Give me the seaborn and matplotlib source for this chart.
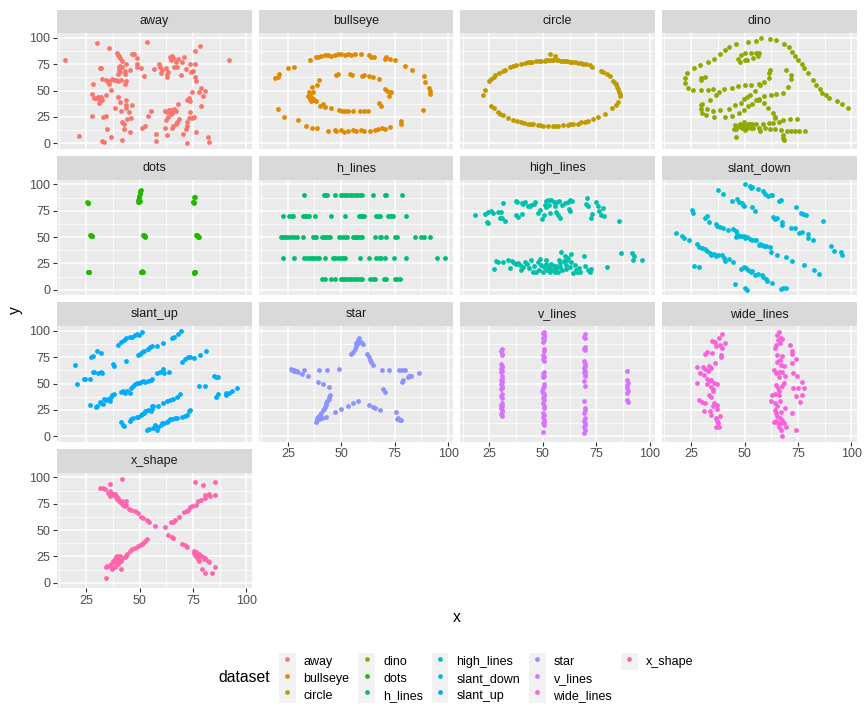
"""
Datasaurus dozen small multiples, ggplot-like look (facet_wrap, 4 columns,
legend at the bottom).
"""

import matplotlib
matplotlib.use("Agg")
import matplotlib.pyplot as plt
from matplotlib.lines import Line2D
from matplotlib.patches import Patch
import pandas as pd
import seaborn as sns

# --------------------------------------------------------------------------
# Data
# --------------------------------------------------------------------------
NAMES = ["away", "bullseye", "circle", "dino", "dots", "h_lines", "high_lines",
         "slant_down", "slant_up", "star", "v_lines", "wide_lines", "x_shape"]

COLORS = ["#F8766D", "#E18A00", "#BE9C00", "#8CAB00", "#24B700", "#00BE70",
          "#00C1AB", "#00BBDA", "#00ACFC", "#8B93FF", "#D575FE", "#F962DD",
          "#FF65AC"]

away = [
    (15.3, 79.4), (21.5, 7.0), (30.0, 95.2), (28.1, 56.2), (27.8, 46.7),
    (28.6, 42.9), (29.8, 42.5), (30.6, 43.5), (31.7, 42.2), (32.2, 44.1), (32.5, 41.0),
    (31.1, 38.4), (31.3, 40.3), (27.8, 26.0), (32.9, 25.1), (34.1, 26.0),
    (31.3, 71.4), (32.2, 71.1), (32.5, 61.0), (34.4, 59.8), (35.2, 57.8), (35.9, 59.4),
    (37.0, 60.6), (37.9, 60.0), (39.0, 60.0), (40.1, 59.4), (41.4, 60.0),
    (35.7, 56.2), (36.5, 50.5), (34.1, 46.0),
    (39.7, 85.7), (40.0, 84.1), (40.6, 83.2), (41.1, 81.0), (41.6, 78.4), (40.4, 72.1),
    (41.1, 73.7), (41.8, 72.7), (40.6, 69.8), (40.1, 65.7), (41.1, 67.3), (43.1, 65.7),
    (43.9, 59.4), (43.4, 56.2), (43.1, 68.9),
    (35.8, 90.5), (35.0, 13.3), (36.5, 6.0), (32.5, 2.2), (33.3, 1.3), (42.0, 2.9),
    (38.7, 33.3), (40.0, 43.5), (40.7, 39.0), (43.5, 41.0), (43.9, 36.5), (41.2, 30.8),
    (42.0, 20.6), (42.6, 18.7), (42.8, 13.3), (43.9, 33.3), (45.1, 29.8), (44.3, 22.9),
    (45.9, 23.8), (45.4, 10.2), (46.7, 36.5),
    (43.9, 75.2), (45.4, 69.5), (46.5, 84.8), (47.5, 84.8), (49.0, 81.0), (48.6, 75.2),
    (49.0, 72.1), (50.5, 71.4), (52.2, 64.1), (53.5, 96.5), (51.0, 14.3), (52.5, 16.5),
    (53.8, 26.0), (55.3, 30.8), (56.8, 70.5), (57.7, 8.6), (57.7, 2.2),
    (59.1, 75.2), (59.6, 72.4), (60.4, 69.5), (59.9, 66.4), (62.3, 71.4),
    (62.7, 65.7), (63.2, 67.3), (63.0, 62.5), (64.3, 81.6), (65.0, 83.2), (64.6, 79.0),
    (65.6, 80.6), (66.2, 72.1), (67.5, 72.1), (68.2, 80.0), (66.9, 76.8),
    (69.5, 65.0), (70.6, 82.2), (70.1, 76.8), (71.7, 70.5), (73.7, 75.2), (74.2, 67.3),
    (74.8, 68.9), (76.1, 75.2), (75.8, 87.9), (78.5, 92.0),
    (75.8, 62.5), (76.4, 59.4), (74.5, 48.9), (77.7, 48.3), (78.9, 52.4), (79.7, 45.0),
    (80.8, 49.2), (78.9, 35.6), (91.8, 79.0),
    (62.1, 30.8), (62.9, 29.8), (63.7, 31.7), (64.5, 30.8), (65.3, 31.4), (66.1, 32.4),
    (66.9, 30.8), (64.0, 30.2), (65.0, 28.6),
    (67.9, 37.1), (72.2, 41.0), (73.0, 42.9), (73.7, 40.3), (73.7, 29.2), (73.0, 24.4),
    (74.5, 23.8), (75.3, 25.0), (72.2, 19.7), (72.2, 16.5), (71.7, 13.3),
    (68.6, 22.9), (67.5, 20.6), (67.0, 18.0), (65.9, 16.5), (65.1, 14.9),
    (62.4, 21.9), (62.0, 14.9), (62.7, 7.9), (70.3, 8.6), (72.4, 0.6), (76.6, 10.8),
    (81.9, 6.3), (82.4, 1.6), (63.5, 25.0), (64.6, 27.6),
]

bullseye = [
    (35.2, 79.4), (38.0, 82.2), (39.1, 81.6), (40.6, 82.9), (42.2, 83.5), (43.8, 83.8),
    (45.3, 83.2), (46.9, 84.1), (48.4, 84.8), (50.0, 84.8), (51.6, 84.1), (53.1, 84.8),
    (54.7, 84.1), (56.3, 84.8), (59.4, 84.8), (63.0, 84.1), (64.1, 82.2), (65.2, 82.2),
    (70.3, 80.0), (71.1, 81.6), (72.7, 80.0), (75.0, 79.4), (79.7, 73.7), (83.3, 69.8),
    (25.0, 71.1), (28.1, 72.1), (20.8, 65.7), (20.3, 62.5), (19.2, 61.6), (20.3, 32.4),
    (23.4, 25.1), (29.7, 21.9), (88.8, 64.1), (89.1, 57.8), (91.1, 52.4), (91.7, 49.8),
    (91.4, 46.7), (88.3, 31.4), (77.8, 21.3), (78.1, 18.7),
    (33.3, 16.5), (36.4, 14.9), (38.8, 14.3), (43.8, 11.7), (46.9, 12.4), (47.7, 11.7),
    (50.0, 12.4), (51.1, 10.8), (53.1, 11.7), (55.5, 12.4), (57.0, 11.7), (59.4, 12.4),
    (60.9, 11.7), (63.3, 11.7), (65.6, 13.0), (67.2, 13.7), (69.2, 14.3), (70.3, 13.7),
    (72.7, 15.6),
    (47.7, 65.1), (48.4, 65.4), (53.9, 65.4), (55.1, 64.8), (59.8, 64.1), (60.9, 64.8),
    (63.0, 63.5), (64.8, 62.5), (67.9, 61.0), (39.8, 60.3), (38.8, 55.2), (36.4, 53.0),
    (34.8, 48.3), (35.2, 46.7), (35.7, 44.1), (36.7, 41.9), (37.5, 41.0), (38.3, 39.7),
    (40.3, 35.6), (41.4, 37.1), (42.2, 34.6), (45.3, 33.3), (48.9, 31.7), (50.4, 30.8),
    (51.6, 30.2), (53.1, 30.8), (55.5, 30.8), (58.6, 30.2), (60.5, 30.8), (62.5, 30.2),
    (67.8, 37.8), (68.6, 35.6), (70.5, 51.4), (71.6, 49.9), (72.8, 48.3), (73.1, 48.9),
    (72.3, 45.1), (35.2, 41.9), (36.0, 39.7), (37.0, 41.9), (34.5, 45.0), (36.8, 48.5),
]

circle = [
    (21.9, 46.0), (23.1, 50.5), (25.0, 59.4), (25.8, 61.0), (26.9, 62.5), (27.5, 64.5),
    (29.5, 66.8), (31.3, 68.3), (32.5, 69.5), (34.7, 72.1), (36.0, 73.2), (37.5, 74.3),
    (39.8, 75.6), (41.4, 76.2), (43.0, 76.8), (44.0, 77.2), (45.0, 77.5), (46.9, 77.8),
    (48.0, 78.1), (49.2, 78.4), (50.8, 78.4), (51.5, 78.7), (52.3, 79.0), (53.1, 84.8),
    (53.8, 79.2), (54.7, 79.0), (55.8, 83.2), (56.4, 78.9), (57.0, 78.7), (58.6, 78.4),
    (59.4, 78.3), (60.2, 78.1), (61.3, 77.8), (62.5, 77.5), (63.5, 77.1), (64.8, 76.8),
    (66.4, 76.2), (67.6, 75.9), (68.8, 75.6), (70.3, 74.9), (72.0, 74.0), (73.1, 72.7),
    (77.3, 68.9), (78.1, 67.9), (80.0, 65.5), (81.6, 63.5), (82.8, 58.7), (83.5, 57.5),
    (84.1, 56.2), (84.7, 53.7), (85.2, 51.4), (85.6, 48.9), (86.0, 47.0), (86.3, 45.1),
    (85.2, 38.7), (84.3, 36.0), (82.5, 33.0), (79.0, 28.0), (75.8, 25.1), (73.4, 22.9),
    (71.1, 21.3), (69.5, 20.6), (67.8, 19.7), (66.4, 18.7), (64.1, 18.1), (62.9, 17.8),
    (61.7, 17.5), (59.4, 17.1), (57.0, 16.8), (56.0, 16.6), (54.7, 16.5), (52.3, 16.8),
    (50.0, 16.8), (48.8, 17.0), (47.7, 17.1), (45.3, 17.8), (44.2, 18.2), (43.0, 18.7),
    (41.2, 19.4), (39.8, 20.0), (37.7, 21.2), (35.9, 22.5), (33.6, 24.4), (31.3, 27.0),
    (30.0, 28.0), (28.9, 29.5), (26.9, 33.0), (25.5, 35.6),
]

dino = [
    (55.4, 97.2), (51.5, 96.0), (46.2, 94.5), (42.8, 91.4), (40.8, 88.3), (38.7, 84.9),
    (35.6, 79.9), (33.1, 77.6), (29.0, 74.5), (26.2, 71.4), (23.1, 66.4), (22.3, 61.8),
    (22.3, 57.2), (23.3, 52.9), (25.9, 51.0), (29.5, 51.0), (32.8, 51.0), (35.4, 51.4),
    (40.3, 51.4), (44.1, 52.9), (46.7, 54.1), (50.0, 55.3), (53.1, 55.6), (56.7, 56.0),
    (59.2, 57.9), (61.3, 62.2), (61.5, 66.4), (61.8, 69.1), (57.4, 55.3), (54.9, 49.9),
    (52.6, 46.0), (48.2, 38.3), (49.5, 42.2), (51.0, 44.1), (45.4, 36.4), (42.8, 32.6),
    (38.7, 31.4), (35.1, 30.3), (32.6, 32.2), (30.0, 36.8), (33.6, 41.4), (36.7, 45.6),
    (38.2, 49.1), (29.7, 36.0), (29.7, 32.2), (30.0, 29.1), (32.1, 26.8), (35.9, 25.3),
    (41.0, 25.3), (44.1, 25.6), (47.2, 28.7), (49.5, 31.4), (51.5, 34.9), (53.6, 37.6),
    (55.1, 40.6), (56.7, 42.2), (59.2, 44.5), (62.3, 46.0), (64.9, 46.8), (67.9, 47.9),
    (70.5, 53.7), (71.5, 60.6), (71.5, 64.5), (69.5, 69.5), (46.9, 79.9), (48.2, 84.1),
    (50.0, 85.3), (53.1, 85.3), (55.4, 86.0), (56.7, 86.0), (56.2, 82.9), (53.8, 80.6),
    (51.3, 78.7), (50.0, 78.7), (47.9, 77.6), (29.7, 59.9), (29.7, 62.2), (31.3, 62.6),
    (57.9, 99.5), (61.8, 99.1), (64.9, 97.6), (68.5, 94.1), (70.8, 91.0), (72.1, 86.4),
    (73.8, 83.3), (75.1, 79.1), (76.7, 75.3), (77.7, 71.4), (79.7, 66.8), (81.8, 60.3),
    (83.3, 55.3), (85.1, 51.4), (86.4, 47.6), (87.9, 46.0), (89.5, 42.6), (93.3, 39.9),
    (95.4, 36.8), (98.2, 33.7), (56.7, 40.6), (59.2, 38.3), (60.8, 33.7), (63.1, 29.1),
    (64.1, 25.3), (64.4, 24.1), (74.4, 22.9), (71.3, 22.9), (67.9, 22.2), (65.9, 20.3),
    (63.1, 19.1), (61.3, 19.1), (58.7, 18.3), (55.1, 18.3), (52.3, 18.3), (49.7, 17.6),
    (47.4, 16.0), (44.9, 13.7), (48.7, 14.9), (51.3, 14.9), (54.1, 14.9), (56.7, 14.1),
    (59.5, 14.1), (62.1, 13.7), (64.4, 13.3), (67.2, 12.9), (70.0, 11.4), (71.5, 11.8),
    (73.6, 11.4), (47.7, 18.1), (49.5, 19.7), (51.5, 17.8), (46.2, 13.6), (48.5, 15.5),
    (50.3, 13.0), (52.9, 14.9), (46.0, 6.3), (67.9, 5.1), (68.1, 8.0), (68.5, 2.9),
    (75.6, 11.4), (78.2, 11.4), (45.5, 17.2), (53.6, 18.0), (57.0, 11.8),
]

dots = [
    (25.6, 82.9), (25.9, 82.4), (26.1, 82.6), (25.7, 82.2),
    (27.0, 52.0), (27.4, 51.5), (27.8, 51.2), (27.5, 51.8), (27.9, 51.0),
    (25.9, 17.3), (26.2, 16.9), (26.4, 17.0), (26.0, 16.7),
    (50.6, 94.5), (50.4, 93.5), (50.2, 92.3), (50.0, 91.0), (49.8, 89.5), (49.7, 88.0),
    (49.6, 86.5), (49.5, 85.0), (49.4, 83.8), (49.9, 83.2), (50.3, 84.0),
    (51.6, 52.3), (51.9, 51.8), (52.2, 51.2), (52.5, 50.7), (52.8, 50.2),
    (50.6, 17.3), (50.9, 16.9), (51.3, 17.0), (51.0, 17.4), (51.5, 16.8),
    (75.8, 88.3), (75.6, 87.7), (75.0, 83.5), (75.3, 82.8), (75.5, 83.2), (74.9, 82.9),
    (76.3, 52.0), (76.7, 51.7), (77.1, 51.3), (77.5, 51.0), (77.8, 50.5), (77.3, 50.0),
    (75.3, 16.9), (75.6, 16.3), (75.9, 16.6), (75.5, 15.9), (75.8, 17.0),
]

h_lines = [
    (32.5, 89.9), (41.9, 89.9), (42.5, 89.9), (43.4, 89.9), (46.9, 89.9), (49.7, 89.9),
    (50.8, 89.9), (51.9, 89.9), (52.8, 89.9), (53.9, 89.9), (55.0, 89.9), (56.3, 89.9),
    (57.5, 89.9), (58.6, 89.9), (59.7, 89.9), (64.8, 89.9), (70.6, 89.9), (71.1, 89.9),
    (78.6, 89.9),
    (23.0, 70.2), (25.8, 70.2), (26.9, 70.2), (27.3, 70.2), (32.3, 70.2), (33.1, 70.2),
    (33.9, 70.2), (34.8, 70.2), (37.8, 70.2), (45.0, 70.2), (51.9, 70.2), (58.1, 70.2),
    (59.1, 70.2), (59.7, 70.2), (60.5, 70.2), (66.4, 70.2), (67.2, 70.2), (68.0, 70.2),
    (71.9, 70.2), (72.7, 70.2), (73.4, 70.2), (74.2, 70.2), (80.5, 70.2),
    (21.6, 50.3), (22.2, 50.3), (23.1, 50.3), (24.2, 50.3), (25.3, 50.3), (26.6, 50.3),
    (27.8, 50.3), (29.4, 50.3), (32.3, 50.3), (36.7, 50.3), (37.5, 50.3), (38.3, 50.3),
    (40.9, 50.3), (41.9, 50.3), (43.0, 50.3), (43.8, 50.3), (44.8, 50.3), (49.2, 50.3),
    (50.3, 50.3), (51.9, 50.3), (52.8, 50.3), (55.5, 50.3), (56.3, 50.3), (57.0, 50.3),
    (57.8, 50.3), (58.6, 50.3), (59.7, 50.3), (65.9, 50.3), (68.0, 50.3), (68.8, 50.3),
    (71.1, 50.3), (75.3, 50.3), (76.3, 50.3), (84.4, 50.3), (87.5, 50.3), (88.8, 50.3),
    (91.4, 50.3),
    (23.0, 30.5), (28.1, 30.5), (32.8, 30.5), (33.9, 30.5), (35.2, 30.5), (36.3, 30.5),
    (37.5, 30.5), (38.8, 30.5), (39.4, 30.5), (42.2, 30.5), (46.1, 30.5), (47.2, 30.5),
    (48.4, 30.5), (49.7, 30.5), (50.8, 30.5), (51.9, 30.5), (58.6, 30.5), (62.8, 30.5),
    (66.4, 30.5), (67.5, 30.5), (68.8, 30.5), (70.3, 30.5), (74.7, 30.5), (80.5, 30.5),
    (95.0, 30.5), (98.4, 30.5),
    (40.9, 10.5), (42.2, 10.5), (45.3, 10.5), (46.9, 10.5), (49.7, 10.5), (50.8, 10.5),
    (51.9, 10.5), (52.8, 10.5), (53.9, 10.5), (55.0, 10.5), (56.3, 10.5), (57.5, 10.5),
    (58.6, 10.5), (59.7, 10.5), (63.3, 10.5), (64.8, 10.5), (65.6, 10.5), (70.0, 10.5),
    (71.1, 10.5), (75.3, 10.5), (76.3, 10.5), (77.3, 10.5),
]

high_lines = [
    (18.0, 71.0), (23.1, 71.9), (24.2, 74.2), (25.8, 75.2), (23.9, 64.5), (24.5, 63.2),
    (30.2, 74.2), (31.3, 82.6), (29.7, 67.7), (30.8, 68.4), (32.5, 65.5), (37.2, 84.2),
    (38.0, 83.2), (37.5, 71.0), (38.3, 68.7), (40.3, 71.9), (40.6, 81.6), (41.4, 83.2),
    (43.0, 80.0), (44.5, 80.6), (45.8, 81.6), (46.4, 83.2), (47.7, 72.9), (49.7, 67.1),
    (50.3, 71.0), (51.3, 78.4), (51.6, 83.9), (52.3, 84.8), (53.9, 84.8), (53.1, 72.6),
    (55.5, 80.0), (56.7, 83.2), (57.5, 83.9), (57.0, 71.0), (58.1, 68.4), (59.1, 80.6),
    (61.7, 83.2), (62.5, 84.8), (63.8, 83.9), (62.2, 76.8), (62.5, 75.2), (70.8, 87.1),
    (70.3, 81.6), (71.1, 79.4), (73.0, 71.9), (72.7, 67.7), (75.0, 83.2), (75.8, 80.0),
    (76.3, 75.2), (77.3, 71.0), (78.1, 77.4), (78.4, 69.7), (85.5, 65.5),
    (44.0, 79.5), (48.8, 76.0), (52.8, 80.5), (55.0, 82.9), (60.3, 82.0), (29.0, 73.4),
    (26.5, 72.8), (40.0, 82.5), (50.8, 80.8), (56.2, 74.2),
    (27.3, 19.4), (28.1, 27.7), (28.9, 26.8), (31.3, 26.1), (33.6, 28.4), (34.4, 20.3),
    (36.3, 25.2), (37.2, 24.5), (38.3, 25.8), (39.1, 23.5), (39.8, 18.7), (40.6, 21.9),
    (41.4, 26.8), (43.4, 20.3), (44.5, 28.4), (45.6, 17.1), (46.9, 17.1), (47.7, 26.8),
    (48.8, 29.0), (49.2, 23.5), (50.0, 17.1), (50.3, 21.9), (51.3, 28.4), (51.6, 24.5),
    (52.1, 18.7), (52.8, 20.3), (53.4, 17.1), (54.4, 18.7), (55.0, 22.6), (55.5, 17.1),
    (56.3, 20.3), (57.0, 17.1), (57.8, 25.2), (58.6, 35.5), (59.1, 18.7), (59.7, 27.7),
    (60.2, 31.6), (60.6, 23.5), (61.3, 28.4), (61.7, 30.0), (62.5, 21.3), (63.3, 34.2),
    (64.1, 15.5), (64.8, 23.5), (65.6, 18.7), (65.9, 17.1), (66.9, 20.3), (67.5, 17.1),
    (69.1, 31.6), (69.5, 22.6), (71.1, 18.7), (71.9, 17.1), (72.3, 19.4), (80.0, 21.3),
    (86.7, 34.8), (91.9, 34.8), (92.5, 31.6), (92.2, 28.4), (96.3, 28.4),
    (53.0, 22.0), (54.0, 24.0), (56.0, 22.8), (58.0, 21.5), (46.0, 22.5), (48.0, 18.5),
    (57.5, 28.0), (61.0, 19.5), (63.0, 26.5), (42.5, 24.0), (35.5, 27.0),
]

slant_down = [
    (50.2, 100.0), (52.3, 98.7), (52.8, 96.8), (53.3, 97.7), (56.4, 95.5), (58.8, 93.5),
    (59.5, 91.3), (60.9, 89.0), (62.2, 90.3), (63.0, 89.7), (66.1, 83.9), (67.2, 84.8),
    (73.9, 78.4), (76.3, 72.9), (77.3, 71.9), (78.9, 71.0), (86.7, 65.5),
    (37.7, 94.5), (39.8, 90.6), (44.2, 83.9), (46.6, 85.8), (47.3, 83.2), (48.6, 82.6),
    (49.2, 80.6), (49.7, 79.4), (53.3, 78.4), (54.8, 75.2), (63.3, 68.7), (64.2, 67.1),
    (65.3, 67.7), (67.3, 63.9), (67.3, 61.6), (71.6, 59.0), (73.6, 58.4), (75.5, 54.2),
    (77.0, 54.8), (79.8, 52.6), (79.8, 49.4), (82.0, 46.8), (90.6, 41.3), (91.6, 36.5),
    (95.0, 35.5), (95.5, 33.2),
    (25.2, 75.8), (25.9, 72.9), (31.7, 67.7), (32.5, 69.7), (33.5, 64.6), (36.4, 62.3),
    (37.2, 60.6), (38.5, 59.5), (40.0, 58.2), (42.3, 56.8), (44.5, 58.1), (45.8, 55.8),
    (46.6, 52.6), (46.1, 50.3), (47.5, 51.5), (48.5, 50.8), (49.7, 51.0), (50.2, 49.4),
    (51.3, 50.3), (52.5, 48.4), (53.6, 47.7), (54.8, 47.1), (55.5, 47.1), (56.7, 42.9),
    (57.3, 43.5), (58.0, 42.9), (59.1, 41.9), (60.2, 41.3), (61.7, 40.3), (62.5, 35.5),
    (65.3, 33.2), (69.5, 31.0), (72.3, 27.7), (77.8, 23.5), (82.7, 18.7), (85.0, 14.8),
    (18.1, 53.5), (20.8, 51.0), (21.6, 49.4), (24.2, 47.1), (27.8, 43.5), (28.6, 40.6),
    (30.0, 39.5), (31.4, 39.0), (32.5, 36.5), (33.6, 34.8), (34.5, 33.2), (35.6, 34.2),
    (36.4, 31.6), (37.5, 33.0), (39.2, 32.6), (40.3, 30.0), (40.8, 27.7), (42.7, 29.0),
    (44.5, 26.8), (26.3, 22.9), (28.6, 21.3),
    (48.1, 19.4), (49.7, 21.3), (50.8, 20.3), (51.7, 18.7), (52.8, 17.1), (53.6, 18.1),
    (54.8, 13.9), (56.4, 14.8), (58.0, 13.9), (58.6, 12.3), (59.8, 10.6), (60.3, 8.4),
    (62.7, 6.5), (45.3, 5.2), (50.2, 1.6), (51.3, 0.0), (66.9, 1.0), (68.0, 1.6),
    (69.2, 1.9),
]

slant_up = [
    (20.0, 67.7), (20.8, 50.0), (24.2, 54.2), (24.7, 54.8), (27.0, 54.8), (27.4, 75.2),
    (28.1, 76.1), (28.1, 60.6), (28.9, 60.6), (30.2, 80.6), (30.8, 60.0), (31.8, 60.6),
    (32.1, 79.4), (32.5, 59.7), (27.0, 30.0), (29.7, 27.7), (30.2, 29.0), (31.3, 32.6),
    (32.1, 31.6), (33.3, 35.5), (32.9, 31.0), (34.4, 34.8), (35.2, 35.5), (36.0, 33.9),
    (36.8, 37.4), (37.3, 38.7), (38.1, 39.7), (39.9, 87.1), (41.5, 89.7), (42.8, 91.3),
    (43.9, 92.9), (45.4, 94.5), (46.5, 93.9), (47.8, 96.1), (48.6, 96.8), (49.7, 96.1),
    (51.4, 99.4), (37.6, 68.7), (38.1, 67.1), (43.9, 71.0), (41.5, 13.9), (42.3, 10.6),
    (42.8, 9.7), (45.4, 14.8), (46.2, 16.1), (47.0, 17.1), (48.6, 18.1), (49.4, 18.7),
    (50.6, 20.3), (51.3, 21.3), (52.0, 21.9), (52.8, 23.5), (54.1, 24.5), (55.3, 23.5),
    (56.0, 25.8), (56.4, 28.4), (41.2, 41.9), (42.3, 42.9), (43.4, 40.6), (44.3, 42.9),
    (45.4, 40.6), (45.9, 46.1), (47.0, 47.7), (47.8, 49.4), (48.6, 50.3), (49.7, 51.0),
    (50.6, 51.6), (51.7, 52.6), (52.5, 51.6), (54.1, 52.6), (55.3, 53.5), (56.0, 54.8),
    (58.0, 60.0), (59.6, 61.3), (61.2, 63.9), (61.6, 60.0), (63.8, 60.6), (49.1, 77.4),
    (50.2, 78.4), (51.3, 80.0), (52.2, 80.6), (53.8, 83.2), (54.9, 84.8), (55.7, 85.8),
    (58.0, 85.8), (61.2, 89.0), (65.1, 92.9), (66.2, 94.5), (67.9, 96.8), (69.5, 100.0),
    (53.3, 5.8), (54.4, 6.5), (56.4, 8.1), (57.2, 10.6), (58.0, 5.8), (58.8, 9.0),
    (59.9, 10.6), (60.7, 12.3), (61.6, 12.9), (62.7, 13.9), (63.5, 14.8), (64.3, 16.1),
    (65.1, 16.8), (66.4, 17.1), (67.5, 17.1), (69.8, 18.7), (71.4, 19.4), (72.2, 20.3),
    (73.0, 23.5), (73.4, 24.5), (55.7, 29.0), (58.8, 29.0), (61.2, 31.6), (62.7, 33.2),
    (64.3, 34.2), (65.9, 35.5), (67.5, 37.4), (69.0, 39.7), (69.8, 70.3), (71.1, 72.9),
    (72.5, 74.8), (73.7, 75.2), (75.3, 74.2), (78.0, 47.7), (80.8, 47.7), (78.5, 76.8),
    (81.3, 80.6), (84.7, 56.8), (85.8, 55.8), (86.8, 55.8), (85.8, 37.4), (86.8, 39.7),
    (90.3, 38.7), (90.7, 40.6), (91.8, 41.3), (93.1, 42.9), (95.8, 46.1),
]

star = [
    (27.0, 63.2), (27.7, 63.2), (28.6, 62.3), (29.2, 62.3), (29.7, 60.6), (31.7, 59.0),
    (32.5, 62.9), (34.4, 56.8), (39.5, 62.9), (43.3, 63.2), (49.2, 63.9), (69.1, 63.2),
    (72.3, 63.2), (77.0, 63.2), (78.4, 63.2), (80.0, 63.2), (82.3, 56.8), (81.3, 55.8),
    (78.9, 53.2), (78.4, 51.6), (86.4, 60.0), (39.1, 51.6), (41.4, 49.4), (44.1, 46.8),
    (44.8, 38.7), (44.2, 35.5), (43.4, 33.2), (42.7, 30.0), (42.2, 27.7), (41.4, 24.5),
    (40.6, 21.9), (39.5, 19.4), (38.6, 15.5), (38.3, 13.9), (39.8, 16.1), (41.1, 17.7),
    (43.0, 18.7), (47.2, 22.6), (50.0, 25.8), (53.1, 29.0), (55.5, 31.6), (57.8, 33.9),
    (63.0, 30.0), (64.8, 27.7), (65.9, 26.8), (68.0, 24.5), (69.5, 44.5), (70.6, 41.9),
    (75.5, 22.9), (76.6, 17.1), (77.7, 15.5), (54.7, 78.4), (55.5, 80.0), (56.7, 85.8),
    (57.0, 88.1), (57.8, 91.3), (58.3, 92.9), (59.1, 89.7), (60.2, 87.4), (62.2, 77.7),
    (62.8, 75.2), (64.1, 70.3), (64.8, 67.7),
    (26.5, 63.5), (27.3, 62.6), (28.0, 61.8), (38.8, 17.0), (39.2, 18.2), (40.0, 20.5),
    (41.8, 26.0), (43.0, 31.5), (44.5, 37.0), (58.0, 89.0), (56.3, 83.0), (63.5, 72.5),
    (76.0, 16.5), (78.0, 15.0), (81.8, 57.0), (82.5, 57.5),
]

v_lines = [
    (30.8, 82.6), (30.6, 80.6), (30.9, 78.4), (30.7, 76.8), (30.6, 68.7), (30.9, 67.1),
    (30.7, 65.5), (30.5, 63.9), (30.8, 62.3), (30.6, 60.6), (30.9, 56.8), (30.7, 54.8),
    (30.5, 53.5), (30.8, 51.6), (30.6, 49.4), (30.9, 47.7), (30.7, 46.1), (30.5, 44.5),
    (30.8, 39.7), (30.6, 38.1), (30.9, 36.5), (30.7, 31.6), (30.5, 30.0), (30.8, 28.4),
    (30.6, 26.8), (30.9, 24.5), (30.7, 22.6), (30.5, 21.3), (30.8, 19.4),
    (50.4, 99.4), (50.2, 97.7), (50.5, 96.1), (50.3, 94.5), (50.1, 92.9), (50.4, 91.3),
    (50.2, 89.7), (50.5, 82.6), (50.3, 80.6), (50.1, 76.8), (50.4, 75.2), (50.2, 73.5),
    (50.5, 71.9), (50.3, 60.6), (50.1, 59.0), (50.4, 57.4), (50.2, 55.8), (50.5, 49.4),
    (50.3, 47.7), (50.1, 46.1), (49.8, 42.9), (50.2, 41.3), (50.5, 39.7), (50.3, 38.1),
    (50.1, 36.5), (50.4, 34.2), (50.2, 31.6), (50.5, 29.0), (50.3, 26.8), (50.1, 21.9),
    (50.4, 20.3), (50.2, 18.7), (50.5, 15.5), (50.3, 13.9), (50.1, 12.3), (50.4, 10.6),
    (49.9, 4.2),
    (69.6, 96.8), (69.4, 94.5), (69.7, 92.9), (69.5, 84.8), (69.3, 83.2), (69.6, 81.6),
    (69.4, 71.0), (69.7, 68.7), (69.5, 67.1), (69.3, 64.5), (69.6, 62.3), (69.4, 60.6),
    (69.7, 59.0), (69.5, 57.4), (69.3, 52.6), (69.6, 47.7), (69.4, 33.2), (69.7, 26.8),
    (69.5, 24.5), (69.3, 21.9), (69.6, 17.1), (69.4, 14.8), (69.7, 12.3), (69.5, 10.6),
    (69.3, 8.4), (69.6, 5.8), (69.4, 2.6),
    (89.5, 62.3), (89.4, 53.5), (89.6, 51.0), (89.5, 48.4), (89.4, 46.1), (89.6, 42.9),
    (89.5, 40.6), (89.4, 34.2), (89.6, 32.3),
]

wide_lines = [
    (39.2, 96.8), (38.0, 93.5), (40.8, 89.0), (34.8, 90.3), (36.1, 89.7), (36.7, 85.8),
    (39.5, 83.9), (32.5, 80.0), (31.7, 77.7), (34.8, 79.4), (38.8, 76.8), (39.1, 75.2),
    (27.5, 66.1), (30.6, 65.5), (31.3, 63.9), (33.3, 67.1), (34.1, 64.5), (28.9, 59.7),
    (30.9, 58.4), (27.8, 51.0), (32.5, 54.2), (33.3, 52.6), (34.5, 53.5), (35.6, 51.0),
    (36.9, 49.4), (32.5, 49.4), (34.1, 47.1), (35.2, 45.2), (33.3, 38.7), (34.5, 37.4),
    (28.6, 34.2), (30.2, 32.3), (31.4, 31.6), (35.6, 31.6), (37.2, 30.0), (35.2, 28.4),
    (30.9, 23.5), (33.8, 23.5), (34.5, 20.3), (38.4, 19.4), (36.4, 17.1), (37.2, 14.8),
    (37.7, 12.3), (36.7, 9.0), (38.0, 9.0), (35.0, 43.0), (33.0, 61.5), (36.0, 70.0),
    (37.0, 25.5), (38.5, 87.0),
    (66.1, 99.4), (65.3, 96.1), (66.9, 92.9), (65.8, 91.3), (67.7, 91.9), (64.2, 83.9),
    (64.8, 86.5), (66.4, 88.1), (65.3, 77.4), (67.3, 75.8), (71.1, 86.5), (72.3, 80.6),
    (72.0, 78.4), (73.9, 73.5), (72.0, 69.7), (66.9, 67.7), (68.4, 67.1), (63.9, 63.2),
    (66.1, 61.3), (67.7, 60.6), (68.8, 56.8), (72.8, 59.7), (74.7, 57.4), (66.1, 55.8),
    (77.0, 51.6), (64.5, 48.7), (68.4, 50.3), (67.7, 47.7), (65.8, 46.1), (72.8, 46.1),
    (75.2, 46.1), (77.8, 46.1), (64.2, 39.7), (63.0, 38.7), (66.1, 38.7), (73.9, 38.1),
    (76.7, 38.7), (75.8, 32.3), (62.2, 33.9), (64.2, 31.6), (66.4, 33.2), (68.9, 26.8),
    (72.3, 21.9), (64.2, 25.2), (64.5, 21.9), (65.3, 19.4), (66.4, 17.1), (67.7, 15.5),
    (63.8, 13.9), (64.8, 14.8), (65.8, 12.9), (66.9, 12.3), (68.4, 12.9), (69.2, 9.0),
    (66.9, 5.8), (74.2, 5.8), (67.3, 0.3), (65.0, 70.5), (66.5, 72.5), (64.8, 60.0),
    (66.0, 43.0), (65.0, 29.0), (67.0, 23.0), (66.0, 8.5),
]

x_shape = [
    (31.3, 90.3), (32.9, 89.7), (34.0, 88.7), (36.0, 87.1), (35.2, 85.5), (37.1, 84.5),
    (37.6, 83.2), (36.0, 82.3), (38.7, 83.9), (39.2, 81.3), (39.6, 80.0), (40.3, 78.1),
    (41.2, 75.8), (41.8, 78.1), (42.3, 73.5), (43.1, 72.6), (43.9, 73.5), (45.0, 70.3),
    (46.2, 69.4), (47.8, 67.7), (49.1, 66.1), (50.6, 62.9), (51.7, 61.3), (53.3, 59.7),
    (54.4, 58.1), (57.2, 54.2), (36.0, 94.2), (42.0, 98.4), (43.9, 77.4),
    (40.0, 80.8), (39.0, 82.6), (38.0, 84.2),
    (34.1, 4.8), (34.1, 14.5), (34.9, 16.1), (36.8, 17.7), (36.0, 16.1), (37.1, 12.9),
    (38.4, 22.6), (39.2, 24.2), (39.6, 25.2), (40.3, 22.6), (40.7, 25.2), (41.2, 13.5),
    (41.5, 21.0), (42.0, 23.2), (43.1, 24.2), (43.9, 25.2), (44.3, 27.4), (45.4, 30.6),
    (46.5, 32.3), (47.8, 32.9), (49.1, 34.8), (50.2, 36.1), (51.0, 37.1), (51.7, 38.1),
    (52.5, 39.4), (53.3, 41.3), (39.9, 17.7), (38.4, 14.5), (37.6, 21.0),
    (40.8, 22.0), (39.8, 19.5), (38.0, 20.0),
    (62.0, 53.2), (64.8, 57.4), (65.9, 58.1), (66.7, 59.7), (68.6, 62.9), (70.6, 67.1),
    (72.2, 68.4), (72.6, 69.4), (73.7, 71.6), (74.5, 72.6), (76.4, 73.5), (77.4, 77.4),
    (78.9, 79.0), (80.5, 80.6), (80.8, 83.2), (82.4, 84.5), (83.2, 82.3), (76.1, 96.1),
    (79.6, 92.9), (85.2, 96.1), (85.5, 83.2),
    (63.5, 45.2), (65.1, 43.5), (65.9, 42.6), (69.8, 37.1), (71.1, 36.1), (72.2, 33.9),
    (75.3, 30.6), (76.4, 29.0), (77.7, 27.4), (78.9, 25.2), (80.0, 22.6), (80.8, 23.2),
    (82.1, 21.0), (82.4, 19.4), (75.8, 26.5), (76.9, 24.2), (78.0, 21.0), (79.2, 12.9),
    (80.8, 9.0), (84.0, 9.0), (85.1, 14.5), (76.5, 25.5), (77.2, 22.5), (75.6, 28.0),
    (79.5, 24.0),
]

SERIES = [away, bullseye, circle, dino, dots, h_lines, high_lines,
          slant_down, slant_up, star, v_lines, wide_lines, x_shape]

X_TICKS = [25, 50, 75, 100]
X_MINOR = [12.5, 37.5, 62.5, 87.5]
Y_TICKS = [0, 25, 50, 75, 100]
Y_MINOR = [12.5, 37.5, 62.5, 87.5]
XLIM = (11.4, 102.4)
YLIM = (-5.0, 104.7)

# --------------------------------------------------------------------------
# Layout (pixels of a 864 x 720 canvas)
# --------------------------------------------------------------------------
W, H = 864, 720
PANEL_W, PANEL_H, STRIP_H = 194.5, 115.5, 23.5
COL_LEFT = [57 + i * 201.7 for i in range(4)]
ROW_TOP = [33 + i * 146.5 for i in range(4)]

PANEL_BG = "#EBEBEB"
STRIP_BG = "#D9D9D9"
TICK_TEXT = "#4D4D4D"


def px_rect(left, top, width, height):
    return [left / W, 1 - (top + height) / H, width / W, height / H]


def main():
    plt.rcParams["font.family"] = ["Liberation Sans", "DejaVu Sans"]

    rows = [(name, x, y) for name, pts in zip(NAMES, SERIES) for x, y in pts]
    df = pd.DataFrame(rows, columns=["dataset", "x", "y"])

    fig = plt.figure(figsize=(W / 100, H / 100), dpi=100)

    for i, name in enumerate(NAMES):
        row, col = divmod(i, 4)
        left, top = COL_LEFT[col], ROW_TOP[row]
        ax = fig.add_axes(px_rect(left, top, PANEL_W, PANEL_H))
        sns.scatterplot(data=df[df["dataset"] == name], x="x", y="y",
                        color=COLORS[i], s=12, linewidth=0, ax=ax, legend=False)
        ax.set_facecolor(PANEL_BG)
        ax.set_xlim(XLIM)
        ax.set_ylim(YLIM)
        ax.set_xticks(X_TICKS)
        ax.set_xticks(X_MINOR, minor=True)
        ax.set_yticks(Y_TICKS)
        ax.set_yticks(Y_MINOR, minor=True)
        ax.grid(which="major", color="white", linewidth=1.1)
        ax.grid(which="minor", color="white", linewidth=0.55)
        ax.set_axisbelow(True)
        for s in ax.spines.values():
            s.set_visible(False)
        ax.set_xlabel("")
        ax.set_ylabel("")

        show_x = row == 3 or (row == 2 and col > 0)
        show_y = col == 0
        ax.tick_params(which="minor", length=0)
        ax.tick_params(axis="x", which="major", length=2.75 if show_x else 0,
                       width=0.8, color="#333333", labelbottom=show_x,
                       labelsize=9, labelcolor=TICK_TEXT, pad=2)
        ax.tick_params(axis="y", which="major", length=2.75 if show_y else 0,
                       width=0.8, color="#333333", labelleft=show_y,
                       labelsize=9, labelcolor=TICK_TEXT, pad=2)

        # facet strip
        sax = fig.add_axes(px_rect(left, top - STRIP_H, PANEL_W, STRIP_H))
        sax.set_facecolor(STRIP_BG)
        sax.set_xticks([])
        sax.set_yticks([])
        for s in sax.spines.values():
            s.set_visible(False)
        sax.text(0.5, 0.5, name, ha="center", va="center", fontsize=9,
                 color="#1A1A1A", transform=sax.transAxes)

    # axis titles
    fig.text(456.5 / W, 1 - 618 / H, "x", ha="center", va="center", fontsize=11.3)
    fig.text(15 / W, 1 - 310 / H, "y", ha="center", va="center", fontsize=11.3,
             rotation=90)

    # legend: 3 rows filled column by column, like ggplot; two blank slots
    # pad the last column so it holds a single key
    handles = [
        (Patch(facecolor="#F2F2F2", edgecolor="none"),
         Line2D([], [], linestyle="", marker="o", markersize=3.4,
                markerfacecolor=c, markeredgecolor=c, markeredgewidth=0))
        for c in COLORS
    ]
    labels = list(NAMES)
    for _ in range(2):
        handles.append(Patch(facecolor="none", edgecolor="none"))
        labels.append("")
    fig.legend(handles, labels, loc="upper left",
               bbox_to_anchor=(279 / W, 1 - 653 / H), ncol=5, frameon=False,
               fontsize=9, handlelength=1.33, handleheight=1.67, labelspacing=0,
               handletextpad=0.64, columnspacing=0.7, borderpad=0,
               borderaxespad=0)
    fig.text(218 / W, 1 - 678 / H, "dataset", ha="left", va="center", fontsize=11.3)

    fig.savefig("out.png", dpi=100)
    plt.close(fig)


if __name__ == "__main__":
    main()
